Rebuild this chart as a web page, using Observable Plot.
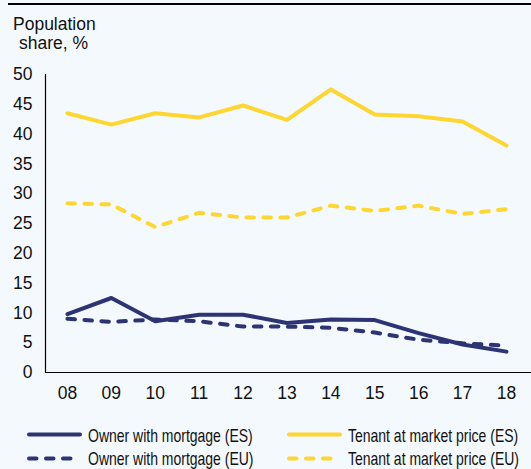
<!DOCTYPE html>
<html>
<head>
<meta charset="utf-8">
<script src="https://cdn.jsdelivr.net/npm/d3@7"></script>
<script src="https://cdn.jsdelivr.net/npm/@observablehq/plot@0.6"></script>
<style>
  html, body { margin: 0; padding: 0; background: #f4f9fd; }
  #wrap { position: relative; width: 531px; height: 469px; background: #f4f9fd; overflow: hidden;
          font-family: "Liberation Sans", Arial, sans-serif; color: #111; }
  #rule { position: absolute; left: 8px; right: 0; top: 3px; height: 2px; background: #000; }
  #title { position: absolute; left: 13px; top: 15px; width: 81px; text-align: center;
           font-size: 17.5px; line-height: 19px; }
  #chart { position: absolute; left: 0; top: 0; }
  #legend { position: absolute; left: 0; top: 420px; }
</style>
</head>
<body>
<div id="wrap">
  <div id="rule"></div>
  <div id="chart"></div>
  <div id="title">Population<br>share, %</div>
  <svg id="legend" width="531" height="49"></svg>
</div>
<script>
// ---- data ----
const years = ["08","09","10","11","12","13","14","15","16","17","18"];
const yTicks = [0, 5, 10, 15, 20, 25, 30, 35, 40, 45, 50];
const ownerES  = [9.8, 12.5, 8.6, 9.7, 9.7, 8.3, 8.9, 8.8, 6.6, 4.7, 3.5];
const ownerEU  = [9.0, 8.5, 8.9, 8.6, 7.7, 7.7, 7.5, 6.7, 5.5, 4.9, 4.5];
const tenantES = [43.5, 41.6, 43.5, 42.8, 44.8, 42.4, 47.5, 43.3, 43.0, 42.1, 38.1];
const tenantEU = [28.4, 28.2, 24.4, 26.8, 26.0, 26.0, 28.0, 27.1, 28.0, 26.6, 27.4];
const seriesNames = ["Owner with mortgage (ES)", "Tenant at market price (ES)",
                     "Owner with mortgage (EU)", "Tenant at market price (EU)"];

const NAVY = "#2d3474", YELLOW = "#fed630", DASH = "7.5,9.5";
const series = [
  {name: seriesNames[0], values: ownerES,  color: NAVY,   dash: null},
  {name: seriesNames[1], values: tenantES, color: YELLOW, dash: null},
  {name: seriesNames[2], values: ownerEU,  color: NAVY,   dash: DASH},
  {name: seriesNames[3], values: tenantEU, color: YELLOW, dash: DASH}
];
const toRows = s => s.values.map((v, i) => ({i, v}));
const drawOrder = [series[3], series[1], series[2], series[0]];

const plot = Plot.plot({
  width: 531,
  height: 412,
  marginTop: 74,
  marginBottom: 40,
  marginLeft: 45,
  marginRight: 0,
  style: {fontFamily: "Liberation Sans, Arial, sans-serif", fontSize: "17.5px", background: "transparent", color: "#111"},
  x: {type: "linear", domain: [-0.5, 10.57], ticks: d3.range(years.length),
      tickFormat: i => years[i], tickSize: 0, tickPadding: 14, label: null},
  y: {domain: [0, 50], ticks: yTicks, tickSize: 0, tickPadding: 13, label: null},
  marks: [
    Plot.ruleY([0], {stroke: "#000", strokeWidth: 1.2}),
    Plot.ruleX([-0.5], {y1: 0, y2: 50, stroke: "#000", strokeWidth: 1.2}),
    ...drawOrder.map(s => Plot.line(toRows(s), {
      x: "i", y: "v", stroke: s.color, strokeWidth: 4,
      strokeLinecap: "round", strokeLinejoin: "round",
      strokeDasharray: s.dash || undefined
    }))
  ]
});
document.getElementById("chart").appendChild(plot);

// ---- legend ----
const legend = d3.select("#legend");
const cols = [29, 289], rows = [14.5, 38.5];
const textX = [88, 348], baseY = [21.5, 44.5];
series.forEach((s, k) => {
  const c = k % 2, r = Math.floor(k / 2);
  legend.append("line")
    .attr("x1", cols[c]).attr("x2", cols[c] + 51)
    .attr("y1", rows[r]).attr("y2", rows[r])
    .attr("stroke", s.color).attr("stroke-width", 4)
    .attr("stroke-linecap", "round")
    .attr("stroke-dasharray", s.dash);
  legend.append("text")
    .attr("transform", `translate(${textX[c]},${baseY[r]}) scale(0.8,1)`)
    .attr("font-family", "Liberation Sans, Arial, sans-serif")
    .attr("font-size", 17.5)
    .attr("fill", "#111")
    .text(s.name);
});
</script>
</body>
</html>
